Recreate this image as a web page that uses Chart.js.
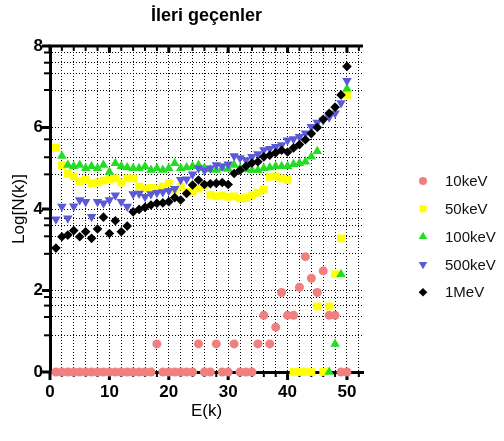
<!DOCTYPE html>
<html lang="tr">
<head>
<meta charset="UTF-8">
<title>İleri geçenler</title>
<script src="https://cdn.jsdelivr.net/npm/chart.js"></script>
<style>
  html, body { margin: 0; padding: 0; background: #fff; }
  #wrap { width: 504px; height: 441px; }
</style>
</head>
<body>
<div id="wrap"><canvas id="chart" width="504" height="441"></canvas></div>
<script>
// E(k) values
const energies = [1,2,3,4,5,6,7,8,9,10,11,12,13,14,15,16,17,18,19,20,21,22,23,24,25,
                  26,27,28,29,30,31,32,33,34,35,36,37,38,39,40,41,42,43,44,45,46,47,48,49,50];

// Log[N(k)] per series (null = no point)
const keV10 = [0,0,0,0,0,0,0,0,0,0,0,0,0,0,0,0,0,0.69,0,0,0,0,0,0,0.69,
               0,0,0.69,0,0,0.69,0,0,0,0.69,1.39,0.69,1.10,1.95,1.39,1.39,2.08,2.83,2.30,1.95,2.48,1.39,1.39,0,0];
const keV50 = [5.5,5.08,4.87,4.8,4.68,4.72,4.63,4.65,4.7,4.72,4.75,4.65,4.75,4.75,4.55,4.5,4.52,4.5,4.55,4.63,4.47,4.55,4.42,4.43,4.5,
               4.58,4.35,4.31,4.33,4.3,4.31,4.26,4.27,4.34,4.4,4.47,4.79,4.8,4.75,4.71,0,0,0,0,1.61,0,1.61,2.4,3.28,6.8];
const keV100 = [null,5.3,5.08,5.05,5.08,5.0,5.05,5.0,5.08,4.91,5.12,5.05,5.02,5.0,5.0,5.04,4.96,5.0,4.96,5.0,5.12,5.0,5.02,5.05,5.08,
                5.0,4.97,4.96,5.0,4.98,5.08,5.0,4.97,4.96,4.95,5.0,5.02,5.05,5.05,5.05,5.1,5.12,5.16,5.28,5.42,null,0,0.69,2.4,6.95];
const keV500 = [3.75,4.06,3.77,4.07,4.22,4.18,3.81,4.18,4.14,4.22,4.34,4.18,4.06,4.37,4.38,4.3,4.37,4.4,4.42,4.45,4.5,4.72,4.73,4.85,5.0,
                4.95,5.0,5.08,5.05,5.1,5.3,5.25,5.2,5.28,5.35,5.45,5.48,5.53,5.57,5.69,5.72,5.77,5.86,6.02,6.12,6.18,6.25,6.35,6.6,7.15];
const MeV1 = [3.04,3.32,3.36,3.47,3.32,3.44,3.28,3.51,3.8,3.4,3.71,3.44,3.58,3.93,3.99,4.04,4.1,4.14,4.15,4.18,4.28,4.22,4.38,4.59,4.71,
              4.6,4.62,4.63,4.65,4.6,4.87,4.95,5.05,5.13,5.16,5.28,5.32,5.38,5.44,5.4,5.5,5.58,5.7,5.85,6.0,6.2,6.35,6.5,6.8,7.5];

const seriesNames = ['10keV', '50keV', '100keV', '500keV', '1MeV'];

// axis ticks
const xTicks = [0,2,4,6,8,10,12,14,16,18,20,22,24,26,28,30,32,34,36,38,40,42,44,46,48,50,52];
const xLabels = [0,10,20,30,40,50];
const yLabels = [0,2,4,6,8];
const yMinor = [0.9,1.35,1.63,1.84, 2.9,3.33,3.6,3.77, 4.85,5.27,5.71, 6.92,7.33,7.59,7.84];

const FONT = '"Liberation Sans", Arial, sans-serif';

function pts(vals) {
  return energies.map((e, i) => ({ x: e, y: vals[i] })).filter(p => p.y !== null);
}

const styles = [
  { color: '#F08080', pointStyle: 'circle',   radius: 4.5, rotation: 0 },
  { color: '#FFFF00', pointStyle: 'rect',     radius: 5.5, rotation: 0 },
  { color: '#22DD22', pointStyle: 'triangle', radius: 5.5, rotation: 0 },
  { color: '#5A5AD8', pointStyle: 'triangle', radius: 5.5, rotation: 180 },
  { color: '#000000', pointStyle: 'rectRot',  radius: 4.8, rotation: 0 }
];
const values = [keV10, keV50, keV100, keV500, MeV1];

const datasets = values.map((v, i) => ({
  label: seriesNames[i],
  data: pts(v),
  showLine: false,
  clip: false,
  order: 5 - i,
  pointStyle: styles[i].pointStyle,
  pointRotation: styles[i].rotation,
  pointRadius: styles[i].radius,
  pointHoverRadius: styles[i].radius,
  pointBackgroundColor: styles[i].color,
  pointBorderColor: styles[i].color,
  pointBorderWidth: 0
}));

// tick marks, top frame and legend
const frame = {
  id: 'frame',
  beforeDatasetsDraw(chart) {
    const { ctx, chartArea: a, scales: { x, y } } = chart;
    ctx.save();
    ctx.strokeStyle = '#000';
    ctx.lineWidth = 3;
    ctx.beginPath();
    ctx.moveTo(a.left - 1.5, a.top);
    ctx.lineTo(a.right, a.top);
    ctx.stroke();
    xTicks.forEach(v => {
      const px = x.getPixelForValue(v);
      const major = v % 10 === 0;
      ctx.lineWidth = major ? 3 : 2;
      ctx.beginPath();
      ctx.moveTo(px, a.bottom);
      ctx.lineTo(px, a.bottom + (major ? 8 : 5));
      ctx.moveTo(px, a.top);
      ctx.lineTo(px, a.top + (major ? 7 : 5));
      ctx.stroke();
    });
    yLabels.concat(yMinor).forEach(v => {
      const py = y.getPixelForValue(v);
      const major = yLabels.includes(v);
      ctx.lineWidth = major ? 3 : 2;
      ctx.beginPath();
      ctx.moveTo(a.left, py);
      ctx.lineTo(a.left - (major ? 8 : 6), py);
      ctx.stroke();
    });
    ctx.restore();
  },
  afterDraw(chart) {
    const ctx = chart.ctx;
    ctx.save();
    chart.data.datasets.forEach((ds, i) => {
      const cy = 181 + i * 27.8;
      ctx.fillStyle = ds.pointBackgroundColor;
      ctx.strokeStyle = ds.pointBackgroundColor;
      Chart.helpers.drawPoint(ctx, {
        pointStyle: ds.pointStyle, rotation: ds.pointRotation,
        radius: ds.pointRadius * 0.9, borderWidth: 0
      }, 423, cy);
      ctx.fillStyle = '#111';
      ctx.font = '15px ' + FONT;
      ctx.textAlign = 'left';
      ctx.textBaseline = 'middle';
      ctx.fillText(ds.label, 445, cy + 1);
    });
    ctx.restore();
  }
};

new Chart(document.getElementById('chart'), {
  type: 'scatter',
  data: { datasets },
  options: {
    responsive: false,
    animation: false,
    layout: { padding: { left: 0, right: 141, top: 0, bottom: 0 } },
    plugins: {
      legend: { display: false },
      tooltip: { enabled: false },
      title: {
        display: true,
        text: 'İleri geçenler',
        fullSize: false,
        color: '#000',
        font: { family: FONT, size: 18, weight: 'bold' },
        padding: { top: 5, bottom: 19.4 }
      }
    },
    scales: {
      x: {
        type: 'linear',
        min: 0,
        max: 52.7,
        afterBuildTicks: s => { s.ticks = xTicks.map(v => ({ value: v })); },
        afterFit: s => { s.height = 69; },
        ticks: {
          autoSkip: false, maxRotation: 0, padding: 10, color: '#000',
          font: { family: FONT, size: 17, weight: 'bold' },
          callback: v => xLabels.includes(v) ? v : ''
        },
        grid: {
          drawTicks: false, lineWidth: 1,
          color: c => (c.tick && c.tick.value > 0) ? '#000' : 'rgba(0,0,0,0)'
        },
        border: { display: true, width: 3, color: '#000', dash: [1, 2] },
        title: {
          display: true, text: 'E(k)', color: '#000',
          font: { family: FONT, size: 17 },
          padding: { top: 0, bottom: 19 }
        }
      },
      y: {
        min: 0,
        max: 8,
        afterBuildTicks: s => { s.ticks = yLabels.concat(yMinor).sort((a, b) => a - b).map(v => ({ value: v })); },
        afterFit: s => { s.width = 50; },
        ticks: {
          autoSkip: false, padding: 7, color: '#000',
          font: { family: FONT, size: 17, weight: 'bold' },
          callback: v => yLabels.includes(v) ? v : ''
        },
        grid: {
          drawTicks: false, lineWidth: 1,
          color: c => (c.tick && c.tick.value > 0 && c.tick.value < 8) ? '#000' : 'rgba(0,0,0,0)'
        },
        border: { display: true, width: 3, color: '#000', dash: [1, 2] },
        title: {
          display: true, text: 'Log[N(k)]', color: '#000',
          font: { family: FONT, size: 17 },
          padding: { top: 9, bottom: 0 }
        }
      }
    }
  },
  plugins: [frame]
});
</script>
</body>
</html>
